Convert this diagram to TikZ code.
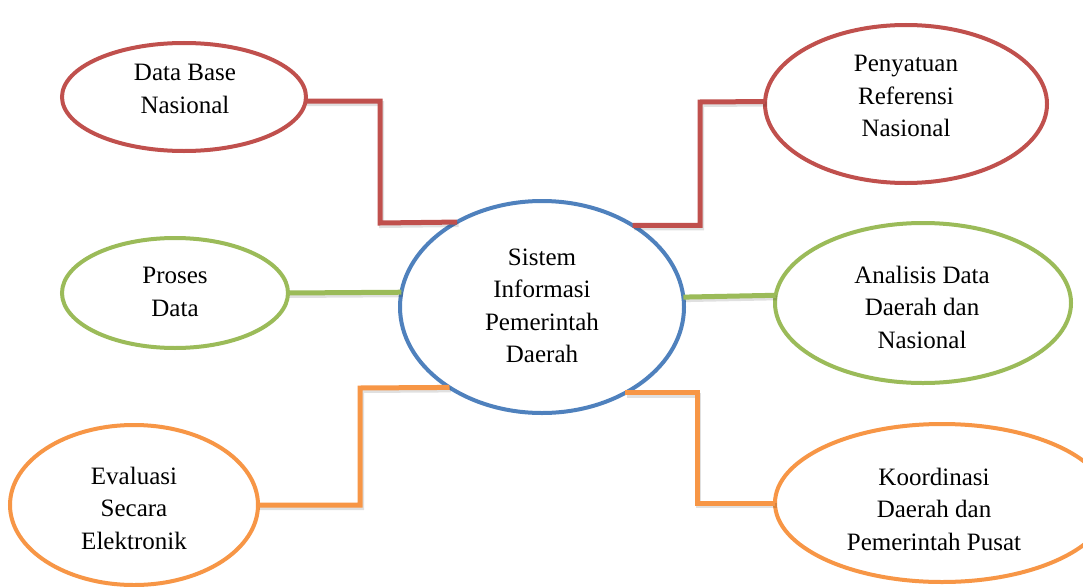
\documentclass[tikz,border=0pt]{standalone}
\usepackage{fontspec}
\setmainfont{Liberation Serif}
\definecolor{offred}{HTML}{C0504D}
\definecolor{offgreen}{HTML}{9BBB59}
\definecolor{offblue}{HTML}{4F81BD}
\definecolor{offorange}{HTML}{F79646}
\usetikzlibrary{shapes.geometric}
\tikzset{
  bubble/.style={ellipse, draw, line width=4pt, inner sep=0pt, outer sep=0pt},
  label text/.style={align=center, font=\fontsize{25}{32.5}\selectfont},
  link/.style={line width=5pt, line join=miter,
    preaction={draw=black, opacity=.12, line width=5pt,
      transform canvas={shift={(1.5pt,-2.5pt)}}}}
}
\begin{document}
\begin{tikzpicture}[x=1pt, y=-1pt]
    \useasboundingbox[fill=white] (0,0) rectangle (1083,586);

    % ellipses
    \node[bubble, draw=offblue, minimum width=284pt, minimum height=212pt] (sip) at (542,307) {};
    \node[bubble, draw=offred, minimum width=244pt, minimum height=108pt] (dbn) at (184,97) {};
    \node[bubble, draw=offred, minimum width=282pt, minimum height=158pt] (prn) at (906,104) {};
    \node[bubble, draw=offgreen, minimum width=226pt, minimum height=110pt] (pd) at (175,293) {};
    \node[bubble, draw=offgreen, minimum width=296pt, minimum height=160pt] (adn) at (923,303) {};
    \node[bubble, draw=offorange, minimum width=248pt, minimum height=160pt] (ese) at (134,505) {};
    \node[bubble, draw=offorange, minimum width=334pt, minimum height=158pt] (kdp) at (942,503) {};

    % connectors
    \draw[link, offred] (dbn.-2.8) -| (380,223) -- (sip.135.9);
    \draw[link, offred] (sip.42.3) -| (700,102) -- (prn.179.2);
    \draw[link, offgreen] (pd.east) -- (sip.174.3);
    \draw[link, offgreen] (sip.4.5) -- (adn.177.7);
    \draw[link, offorange] (ese.east) -| (360,388) -- (sip.221.5);
    \draw[link, offorange] (sip.314) -| (697,503) -- (kdp.west);

    % labels
    \node[label text] (tsip) at (542,306) {Sistem\\Informasi\\Pemerintah\\Daerah};
    \node[label text] (tdbn) at (185,89) {Data Base\\Nasional};
    \node[label text] (tprn) at (906,96) {Penyatuan\\Referensi\\Nasional};
    \node[label text] (tpd) at (175,292) {Proses\\Data};
    \node[label text] (tadn) at (922,307) {Analisis Data\\Daerah dan\\Nasional};
    \node[label text] (tese) at (134,508) {Evaluasi\\Secara\\Elektronik};
    \node[label text] (tkdp) at (934,509) {Koordinasi\\Daerah dan\\Pemerintah Pusat};

\end{tikzpicture}
\end{document}
